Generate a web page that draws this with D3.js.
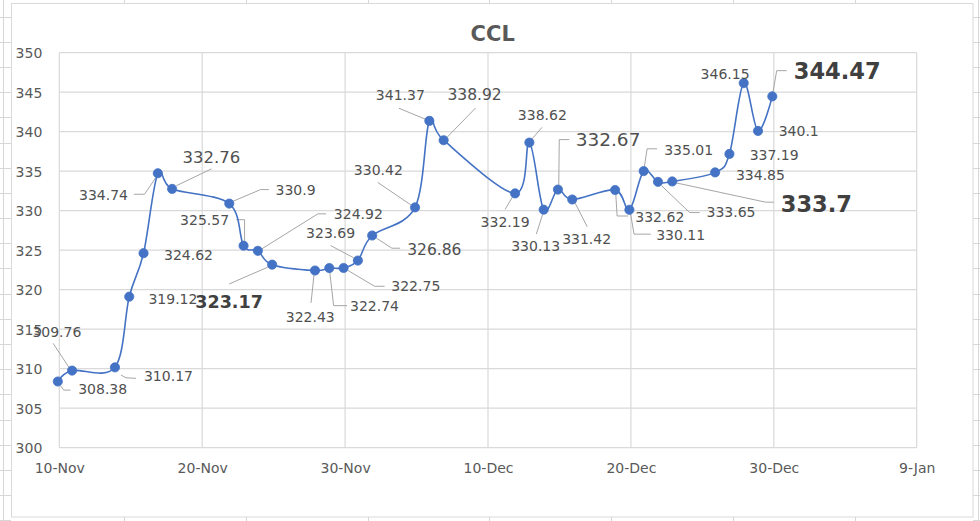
<!DOCTYPE html>
<html>
<head>
<meta charset="utf-8">
<script src="https://cdn.jsdelivr.net/npm/d3@7"></script>
<style>
  html, body { margin: 0; padding: 0; background: #ffffff; }
  svg { display: block; font-family: "DejaVu Sans", Verdana, sans-serif; }
</style>
</head>
<body>
<svg id="chart" width="980" height="521"></svg>
<script>
// ---------------- DATA ----------------
const title = "CCL";
const dates = ["2020-11-10","2020-11-11","2020-11-14","2020-11-15","2020-11-16","2020-11-17","2020-11-18",
  "2020-11-22","2020-11-23","2020-11-24","2020-11-25","2020-11-28","2020-11-29","2020-11-30",
  "2020-12-01","2020-12-02","2020-12-05","2020-12-06","2020-12-07","2020-12-12","2020-12-13",
  "2020-12-14","2020-12-15","2020-12-16","2020-12-19","2020-12-20","2020-12-21","2020-12-22",
  "2020-12-23","2020-12-26","2020-12-27","2020-12-28","2020-12-29","2020-12-30"];
const values = [308.38,309.76,310.17,319.12,324.62,334.74,332.76,
  330.9,325.57,324.92,323.17,322.43,322.74,322.75,
  323.69,326.86,330.42,341.37,338.92,332.19,338.62,
  330.13,332.67,331.42,332.62,330.11,335.01,333.65,
  333.7,334.85,337.19,346.15,340.1,344.47];
const xTickLabels = ["10-Nov","20-Nov","30-Nov","10-Dec","20-Dec","30-Dec","9-Jan"];
const yTicks = [300,305,310,315,320,325,330,335,340,345,350];

// ---------------- LABEL LAYOUT (offsets from each point, px) ----------------
// [dx, dy, fontSize, bold, leader offsets]
const labelLayout = [
  [44.9, 7.6, 14, false, [[2.7,4.3],[6,8.6],[12.7,8.6]]],
  [-15.2, -39, 14, false, [[-3,-3],[-19,-27.3]]],
  [53.5, 8.7, 14, false, [[6,7.7],[11,10.4],[21,11]]],
  [43.7, 2.3, 14, false, null],
  [45, 1.7, 14, false, null],
  [-54.3, 21.7, 14, false, [[-2.3,4.7],[-13.3,21],[-24,21]]],
  [39.3, -32, 16.5, false, [[4.3,-3.2],[39.3,-20]]],
  [66.3, -14, 14, false, [[2.3,-1.7],[31.3,-14],[39.6,-14]]],
  [-39, -26, 14, false, [[1,-4.8],[1,-26],[-7.3,-26]]],
  [100.5, -36.4, 14, false, [[4,-2],[60,-37],[68.3,-37]]],
  [-43.1, 36.7, 17.5, true, [[-4.3,2.5],[-43,19.3]]],
  [-4.8, 46.4, 14, false, [[-1,4.2],[-4,32.4]]],
  [45.2, 37.6, 14, false, [[0.5,4.3],[4.3,37.6],[17.7,37.6]]],
  [72.2, 18.3, 14, false, [[4,2.3],[31,18.3],[41,18.3]]],
  [-27.3, -27.6, 14, false, [[-4.3,-2.8],[-27.3,-15]]],
  [62.2, 14.3, 15.5, false, [[4,2.5],[19.7,12.7],[28,12.7]]],
  [-36.7, -37, 14, false, [[-4.2,-2.5],[-37.4,-25]]],
  [-29, -26, 14, false, [[-4.2,-1.8],[-30.4,-12.6]]],
  [31, -45.7, 15.5, false, [[3.5,-3],[32,-32.3]]],
  [-10, 28.4, 14, false, [[-2.7,3.7],[-10,16]]],
  [13, -27.7, 14, false, [[2.5,-3.5],[12.7,-15.3]]],
  [-8, 36, 14, false, [[-1,4.5],[-7.3,24.3]]],
  [50.1, -50, 18.5, false, [[0.8,-4.3],[1.3,-50],[11.3,-50]]],
  [14.4, 39, 14, false, [[2.7,3.3],[15,27.3]]],
  [44.7, 26.7, 14, false, [[0.7,4.5],[2,26],[13,26]]],
  [51.3, 25.3, 14, false, [[1.3,4.5],[4.6,24.3],[21.3,24.3]]],
  [45, -21.3, 14, false, [[0.7,-4.5],[3.4,-22.3],[13.4,-22.3]]],
  [73, 30, 14, false, [[3.2,3.5],[31.7,30.7],[41.7,30.7]]],
  [144.1, 22.3, 22.5, true, [[4.3,1.5],[93.3,20.7],[101.6,20.7]]],
  [45.3, 2.3, 14, false, null],
  [44.7, 1, 14, false, null],
  [-18.6, -9.6, 14, false, null],
  [40.7, 0, 14, false, null],
  [64.9, -25.7, 22.5, true, [[0.7,-4.5],[4.4,-25.7],[14.4,-25.7]]]
];

// ---------------- CHART ----------------
const svg = d3.select("#chart");
const W = 980, H = 521;
const plot = { left: 59.3, right: 916.7, top: 52.7, bottom: 447.7 };

const parse = d3.utcParse("%Y-%m-%d");
const data = dates.map((d, i) => ({ date: parse(d), value: values[i] }));

const x0 = parse("2020-11-10");
const tickDates = xTickLabels.map((_, i) => d3.utcDay.offset(x0, i * 10));
const x = d3.scaleUtc().domain([tickDates[0], tickDates[tickDates.length - 1]]).range([plot.left - 1.5, plot.right - 1.5]);
const y = d3.scaleLinear().domain([300, 350]).range([plot.bottom, plot.top]);

// spreadsheet background lines
const bg = svg.append("g").attr("stroke", "#d6d6d6").attr("stroke-width", 1);
bg.append("line").attr("x1", 3.5).attr("x2", 3.5).attr("y1", 0).attr("y2", H);
bg.append("line").attr("x1", 978.5).attr("x2", 978.5).attr("y1", 0).attr("y2", H);
for (let yy = 16.5; yy < H; yy += 25.2) {
  bg.append("line").attr("x1", 0).attr("x2", 11).attr("y1", Math.round(yy) + 0.5).attr("y2", Math.round(yy) + 0.5);
  bg.append("line").attr("x1", 973).attr("x2", 980).attr("y1", Math.round(yy) + 0.5).attr("y2", Math.round(yy) + 0.5);
}
for (let xx = 124; xx < W - 10; xx += 121.8) {
  bg.append("line").attr("x1", Math.round(xx) + 0.5).attr("x2", Math.round(xx) + 0.5).attr("y1", 517).attr("y2", H);
  bg.append("line").attr("x1", Math.round(xx) + 0.5).attr("x2", Math.round(xx) + 0.5).attr("y1", 0).attr("y2", 4);
}

// chart area
svg.append("rect").attr("x", 11.5).attr("y", 3.5).attr("width", 961.5).attr("height", 513.5)
  .attr("fill", "#ffffff").attr("stroke", "#d9d9d9").attr("stroke-width", 1);

// title
svg.append("text").attr("x", 492.7).attr("y", 40.8).attr("text-anchor", "middle")
  .attr("font-size", 21).attr("font-weight", "bold").attr("fill", "#595959").text(title);

// gridlines
const grid = svg.append("g").attr("stroke", "#d9d9d9").attr("stroke-width", 1.2).attr("fill", "none");
yTicks.forEach(t => {
  const yy = y(t);
  grid.append("line").attr("x1", plot.left).attr("x2", plot.right).attr("y1", yy).attr("y2", yy);
});
tickDates.forEach(t => {
  const xx = x(t) + 1.5;
  grid.append("line").attr("x1", xx).attr("x2", xx).attr("y1", plot.top).attr("y2", plot.bottom);
});

// axes (labels only)
const yAxis = d3.axisLeft(y).tickValues(yTicks).tickSize(0).tickPadding(0).tickFormat(d3.format("d"));
const gy = svg.append("g").attr("transform", `translate(${plot.left - 17},0)`).call(yAxis);
gy.select(".domain").remove();
gy.selectAll("text").attr("font-family", "'DejaVu Sans', Verdana, sans-serif")
  .attr("font-size", 14).attr("fill", "#595959").attr("dy", "0.36em");

const xAxis = d3.axisBottom(x).tickValues(tickDates).tickSize(0).tickPadding(0)
  .tickFormat((d, i) => xTickLabels[i]);
const gx = svg.append("g").attr("transform", `translate(1.5,${plot.bottom + 20.5})`).call(xAxis);
gx.select(".domain").remove();
gx.selectAll("text").attr("font-family", "'DejaVu Sans', Verdana, sans-serif")
  .attr("font-size", 14).attr("fill", "#595959").attr("dy", "0.36em").attr("y", 0);

// leader lines
const leaders = svg.append("g").attr("fill", "none").attr("stroke", "#a6a6a6").attr("stroke-width", 1);
data.forEach((d, i) => {
  const L = labelLayout[i];
  if (!L[4]) return;
  const px = x(d.date), py = y(d.value);
  leaders.append("polyline")
    .attr("points", L[4].map(o => `${px + o[0]},${py + o[1]}`).join(" "));
});

// line
const line = d3.line().x(d => x(d.date)).y(d => y(d.value)).curve(d3.curveCardinal.tension(0));
svg.append("path").datum(data).attr("d", line)
  .attr("fill", "none").attr("stroke", "#4472C4").attr("stroke-width", 1.6);

// markers
svg.append("g").selectAll("circle").data(data).join("circle")
  .attr("cx", d => x(d.date)).attr("cy", d => y(d.value)).attr("r", 4.6)
  .attr("fill", "#4472C4").attr("stroke", "#4472C4").attr("stroke-width", 0.8);

// value labels
svg.append("g").selectAll("text").data(data).join("text")
  .attr("x", (d, i) => x(d.date) + labelLayout[i][0])
  .attr("y", (d, i) => y(d.value) + labelLayout[i][1])
  .attr("dy", "0.36em")
  .attr("text-anchor", "middle")
  .attr("font-size", (d, i) => labelLayout[i][2])
  .attr("font-weight", (d, i) => labelLayout[i][3] ? "bold" : "normal")
  .attr("fill", (d, i) => labelLayout[i][3] ? "#404040" : "#505050")
  .text(d => String(d.value));
</script>
</body>
</html>
